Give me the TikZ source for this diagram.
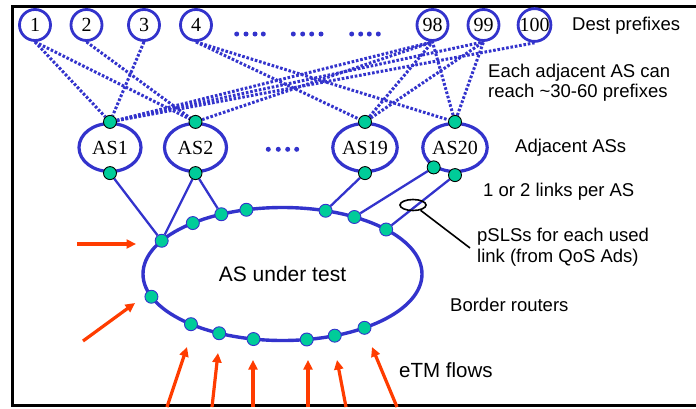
\documentclass[tikz,border=0pt]{standalone}
\usepackage{fontspec}
\setmainfont{Liberation Serif}
\newfontfamily\arialf{Liberation Sans}
\usetikzlibrary{shapes.geometric,arrows.meta}
\definecolor{nblue}{RGB}{51,51,204}
\definecolor{ngreen}{RGB}{0,204,153}
\definecolor{nred}{RGB}{255,60,0}
\pgfdeclarelayer{bg}
\pgfsetlayers{bg,main}
\begin{document}
\begin{tikzpicture}[x=1pt,y=-1pt,
  pfx/.style={circle,draw=nblue,line width=2.8pt,fill=white,minimum size=31pt,inner sep=0pt,font=\fontsize{20}{20}\selectfont},
  asnode/.style={ellipse,draw=nblue,line width=3.2pt,fill=white,minimum width=62pt,minimum height=48pt,inner sep=0pt,font=\fontsize{20}{20}\selectfont},
  bigas/.style={ellipse,draw=nblue,line width=3.4pt,minimum width=279pt,minimum height=133pt,inner sep=0pt,font=\arialf\fontsize{21}{24}\selectfont},
  gdot/.style={circle,draw=black,line width=0.9pt,fill=ngreen,minimum size=13pt,inner sep=0pt},
  bdot/.style={circle,draw=nblue,line width=0.9pt,fill=ngreen,minimum size=13pt,inner sep=0pt},
  reach/.style={draw=nblue,line width=3pt,dash pattern=on 2.6pt off 1.8pt},
  link/.style={draw=nblue,line width=2.3pt},
  flow/.style={draw=nred,line width=3.2pt,-{Triangle[length=9.5pt,width=9pt]}},
  lbl/.style={font=\arialf\fontsize{18.5}{22}\selectfont,anchor=base west,inner sep=0pt},
  pdot/.style={fill=nblue},
]
\useasboundingbox (0,0) rectangle (696,408);
\clip (0,0) rectangle (696,408);
\draw[line width=3.2pt] (12.5,6.5) rectangle (720,405.5);

% prefixes
\node[pfx] (p1) at (35,25) {1};
\node[pfx] (p2) at (86.5,25) {2};
\node[pfx] (p3) at (144,25) {3};
\node[pfx] (p4) at (196,25) {4};
\node[pfx] (p98) at (432.5,25) {98};
\node[pfx] (p99) at (483.5,25) {99};
\node[pfx] (p100) at (534.5,25) {100};

\foreach \x in {236.7,246,255,263.3,293.3,302.7,311.7,321,351.7,360.7,369.3,378.3}
  \fill[pdot] (\x,34) circle (2.5pt);
\foreach \x in {268.3,278.3,287.7,296.7}
  \fill[pdot] (\x,149.3) circle (2.5pt);

% adjacent ASs
\node[asnode] (as1) at (110,147.5) {AS1};
\node[asnode] (as2) at (195.5,147.5) {AS2};
\node[asnode] (as19) at (365,147.5) {AS19};
\node[asnode] (as20) at (455,147.5) {AS20};

\node[gdot] (as1t) at (as1.north) {};
\node[gdot] (as1b) at (as1.south) {};
\node[gdot] (as2t) at (as2.north) {};
\node[gdot] (as2b) at (as2.south) {};
\node[gdot] (as19t) at (as19.north) {};
\node[gdot] (as19b) at (as19.south) {};
\node[gdot] (as20t) at (as20.north) {};
\node[gdot] (as20b) at ([yshift=-2pt]as20.south) {};
\node[gdot] (as20l) at (as20.-137) {};

% AS under test
\node[bigas] (ut) at (282.5,274) {AS under test};
\foreach \a in {150,200,130,116,105,72,59,42,229,243,258,280,292,306}
  \node[bdot] (b\a) at ({282.5+139.5*cos(\a)},{274-66.5*sin(\a)}) {};

\begin{pgfonlayer}{bg}
  \draw[reach] (p1.south) -- (as1t);
  \draw[reach] (p1.south) -- (as2t);
  \draw[reach] (p2.south) -- (as2t);
  \draw[reach] (p3.south) -- (as1t);
  \draw[reach] (p4.south) -- (as19t);
  \draw[reach] (p4.south) -- (as20t);
  \draw[reach] (as1t) -- (p98.south);
  \draw[reach] (as1t) -- (p99.south);
  \draw[reach] (as1t) -- (p100.south);
  \draw[reach] (as2t) -- (p98.south);
  \draw[reach] (as19t) -- (p98.south);
  \draw[reach] (as19t) -- (p99.south);
  \draw[reach] (as20t) -- (p98.south);
  \draw[reach] (as20t) -- (p99.south);

  \draw[link] (as1b) -- (b150);
  \draw[link] (as2b) -- (b150);
  \draw[link] (as2b) -- (b116);
  \draw[link] (as19b) -- (b72);
  \draw[link] (as20l) -- (b59);
  \draw[link] (as20b) -- (b42);
\end{pgfonlayer}

% pSLS marker
\node[ellipse,draw=black,line width=1.6pt,minimum width=26pt,minimum height=11pt,inner sep=0pt] (sel) at (413,205) {};
\coordinate (selend) at (470,248);
\draw[line width=1.6pt] (sel.-35) -- (selend);

% eTM flows
\coordinate (f1s) at (77,244);   \coordinate (f1e) at (136,244);
\coordinate (f2s) at (83,341);   \coordinate (f2e) at (135,303);
\coordinate (f3s) at (167,407);  \coordinate (f3e) at (187,347);
\coordinate (f4s) at (212,407);  \coordinate (f4e) at (218,353);
\coordinate (f5s) at (253,407);  \coordinate (f5e) at (253,360);
\coordinate (f6s) at (308,407);  \coordinate (f6e) at (308,360);
\coordinate (f7s) at (346,407);  \coordinate (f7e) at (337,360);
\coordinate (f8s) at (397,407);  \coordinate (f8e) at (372,347);
\foreach \i in {1,...,8} \draw[flow] (f\i s) -- (f\i e);

% labels
\node[lbl] (tdest) at (572,30) {Dest prefixes};
\node[lbl] (teach1) at (488,77) {Each adjacent AS can};
\node[lbl] (teach2) at (488,97) {reach \textasciitilde30-60 prefixes};
\node[lbl] (tadj) at (515,152) {Adjacent ASs};
\node[lbl] (tlinks) at (483,196) {1 or 2 links per AS};
\node[lbl] (tpsls1) at (477,241) {pSLSs for each used};
\node[lbl] (tpsls2) at (477,262) {link (from QoS Ads)};
\node[lbl] (tborder) at (450,311) {Border routers};
\node[lbl,font=\arialf\fontsize{20.5}{24}\selectfont] (tetm) at (399,377) {eTM flows};
\end{tikzpicture}
\end{document}
